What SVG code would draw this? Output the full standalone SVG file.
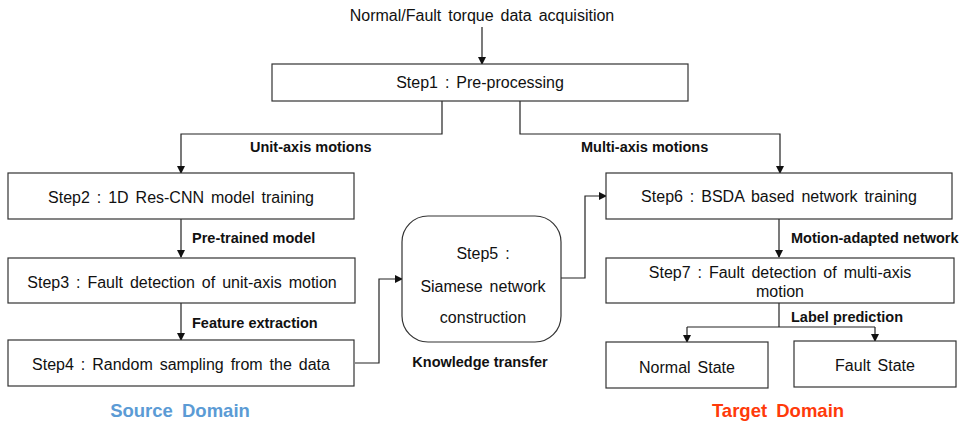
<svg xmlns="http://www.w3.org/2000/svg" width="972" height="425" viewBox="0 0 972 425">
<defs>
<marker id="arr" markerWidth="8" markerHeight="8" refX="7" refY="4" orient="auto" markerUnits="userSpaceOnUse">
<path d="M0,0 L8,4 L0,8 Z" fill="#111"/>
</marker>
<style>
.box{fill:#fff;stroke:#333;stroke-width:1.2}
.t{font-family:"Liberation Sans",Arial,sans-serif;font-size:16px;fill:#111;text-anchor:middle;word-spacing:2.5px}
.b{font-family:"Liberation Sans",Arial,sans-serif;font-size:14.5px;font-weight:bold;fill:#111}
.c{fill:none;stroke:#222;stroke-width:1.2}
.d{font-family:"Liberation Sans",Arial,sans-serif;font-size:18.5px;font-weight:bold;text-anchor:middle;word-spacing:4px}
</style>
</defs>
<rect width="972" height="425" fill="#fff"/>
<text class="t" x="482" y="21">Normal/Fault torque data acquisition</text>

<g id="connectors">
<path class="c" d="M482,27 V64" marker-end="url(#arr)"/>
<path class="c" d="M442,101 V134 H181 V173" marker-end="url(#arr)"/>
<path class="c" d="M520,101 V134 H780 V173" marker-end="url(#arr)"/>
<path class="c" d="M181,219 V257" marker-end="url(#arr)"/>
<path class="c" d="M181,303 V340" marker-end="url(#arr)"/>
<path class="c" d="M355,363 H379 V279 H402" marker-end="url(#arr)"/>
<path class="c" d="M561,278 H585 V196 H606" marker-end="url(#arr)"/>
<path class="c" d="M779,219 V257" marker-end="url(#arr)"/>
<path class="c" d="M779,303 V327"/>
<path class="c" d="M687,327 H875"/>
<path class="c" d="M687,327 V342" marker-end="url(#arr)"/>
<path class="c" d="M875,327 V341" marker-end="url(#arr)"/>
</g>

<g id="labels">
<text class="b" x="250" y="152">Unit-axis motions</text>
<text class="b" x="581" y="152">Multi-axis motions</text>
<text class="b" x="192" y="243">Pre-trained model</text>
<text class="b" x="192" y="328">Feature extraction</text>
<text class="b" x="480" y="367" text-anchor="middle">Knowledge transfer</text>
<text class="b" x="791" y="243">Motion-adapted network</text>
<text class="b" x="791" y="322">Label prediction</text>
</g>

<g id="step1"><rect class="box" x="272" y="64" width="416" height="37"/><text class="t" x="480" y="88">Step1 : Pre-processing</text></g>
<g id="step2"><rect class="box" x="8" y="173" width="346" height="46"/><text class="t" x="181" y="203">Step2 : 1D Res-CNN model training</text></g>
<g id="step3"><rect class="box" x="8" y="258" width="347" height="45"/><text class="t" x="182" y="288">Step3 : Fault detection of unit-axis motion</text></g>
<g id="step4"><rect class="box" x="8" y="340" width="346" height="46"/><text class="t" x="181" y="370">Step4 : Random sampling from the data</text></g>
<g id="step5"><rect class="box" x="402" y="216" width="159" height="126" rx="26" ry="26"/>
<text class="t" x="483" y="259">Step5 :</text>
<text class="t" x="483" y="292">Siamese network</text>
<text class="t" x="483" y="323">construction</text></g>
<g id="step6"><rect class="box" x="606" y="173" width="346" height="46"/><text class="t" x="779" y="202">Step6 : BSDA based network training</text></g>
<g id="step7"><rect class="box" x="606" y="258" width="348" height="45"/>
<text class="t" x="780" y="278">Step7 : Fault detection of multi-axis</text>
<text class="t" x="780" y="297">motion</text></g>
<g id="normal"><rect class="box" x="606" y="342" width="162" height="46"/><text class="t" x="687" y="373">Normal State</text></g>
<g id="fault"><rect class="box" x="794" y="341" width="162" height="46"/><text class="t" x="875" y="371">Fault State</text></g>

<text class="d" x="180" y="417" fill="#5B9BD5">Source Domain</text>
<text class="d" x="778" y="417" fill="#FF3A0A">Target Domain</text>
</svg>
